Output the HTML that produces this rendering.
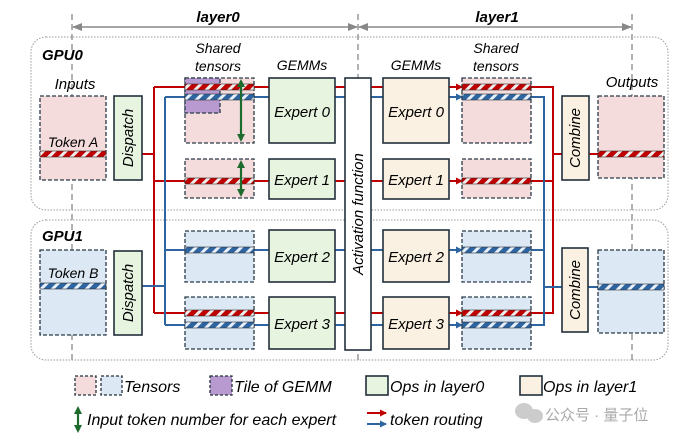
<!DOCTYPE html>
<html><head><meta charset="utf-8"><style>
html,body{margin:0;padding:0;background:#fff;}
svg{display:block;font-family:"Liberation Sans","Noto Sans CJK SC",sans-serif;font-style:italic;}
</style></head><body>
<svg width="700" height="442" viewBox="0 0 700 442" xmlns="http://www.w3.org/2000/svg">
<defs>
<pattern id="pr" width="8" height="8" patternUnits="userSpaceOnUse" patternTransform="rotate(45)"><rect width="8" height="8" fill="#c00000"/><rect width="3" height="8" fill="#eee"/></pattern>
<pattern id="pb" width="8" height="8" patternUnits="userSpaceOnUse" patternTransform="rotate(45)"><rect width="8" height="8" fill="#2e64a0"/><rect width="3" height="8" fill="#e8f0fa"/></pattern>
<marker id="ar" markerUnits="userSpaceOnUse" markerWidth="7" markerHeight="7" refX="6" refY="3.5" orient="auto"><path d="M0,0L7,3.5L0,7z" fill="#c00000"/></marker>
<marker id="ab" markerUnits="userSpaceOnUse" markerWidth="7" markerHeight="7" refX="6" refY="3.5" orient="auto"><path d="M0,0L7,3.5L0,7z" fill="#2e64a0"/></marker>
<marker id="ag" markerUnits="userSpaceOnUse" markerWidth="8" markerHeight="8" refX="6" refY="4" orient="auto-start-reverse"><path d="M0,0L8,4L0,8z" fill="#1e6b2e"/></marker>
<marker id="ay" markerUnits="userSpaceOnUse" markerWidth="10" markerHeight="8" refX="9" refY="4" orient="auto-start-reverse"><path d="M0,0L10,4L0,8z" fill="#888"/></marker>
</defs>
<g stroke="#888" stroke-width="1.3" stroke-dasharray="6,4" fill="none">
<line x1="72" y1="14" x2="72" y2="362"/><line x1="358" y1="14" x2="358" y2="362"/><line x1="632" y1="14" x2="632" y2="362"/>
</g>
<line x1="73" y1="27" x2="357" y2="27" stroke="#888" stroke-width="1.5" marker-start="url(#ay)" marker-end="url(#ay)"/>
<line x1="359" y1="27" x2="631" y2="27" stroke="#888" stroke-width="1.5" marker-start="url(#ay)" marker-end="url(#ay)"/>
<text x="218" y="22" font-size="15" font-weight="bold" text-anchor="middle">layer0</text>
<text x="497" y="22" font-size="15" font-weight="bold" text-anchor="middle">layer1</text>
<rect x="31" y="37" width="637" height="173" rx="15" fill="none" stroke="#999" stroke-dasharray="1.5,1.5"/>
<rect x="31" y="220" width="637" height="140" rx="15" fill="none" stroke="#999" stroke-dasharray="1.5,1.5"/>
<text x="42" y="60" font-size="15" font-weight="bold">GPU0</text>
<text x="42" y="241" font-size="15" font-weight="bold">GPU1</text>
<g font-size="14" text-anchor="middle">
<text x="75" y="89" font-size="15">Inputs</text>
<text x="218" y="53">Shared</text><text x="218" y="71">tensors</text>
<text x="302" y="70">GEMMs</text>
<text x="416" y="70">GEMMs</text>
<text x="496" y="53">Shared</text><text x="496" y="71">tensors</text>
<text x="632" y="87" font-size="15">Outputs</text>
</g>
<g fill="none" stroke-width="2">
<g stroke="#c00000">
<path d="M142,154H154M154,87V313M154,87H269M154,181H269M154,313H269"/>
<path d="M335,87H345M335,181H345M335,313H345M371,87H383M371,181H383M371,313H383"/>
<path d="M449,87H462" marker-end="url(#ar)"/><path d="M449,181H462" marker-end="url(#ar)"/><path d="M449,313H462" marker-end="url(#ar)"/>
<path d="M531,87H553V313H531M531,181H553M553,154H562M589,154H598"/>
</g>
<g stroke="#2e64a0">
<path d="M142,286H165M165,97V325M165,97H269M165,250H269M165,325H269"/>
<path d="M335,97H345M335,250H345M335,325H345M371,97H383M371,250H383M371,325H383"/>
<path d="M449,97H462" marker-end="url(#ab)"/><path d="M449,250H462" marker-end="url(#ab)"/><path d="M449,325H462" marker-end="url(#ab)"/>
<path d="M531,97H544V325H531M531,250H544M544,287H562M588,287H598"/>
</g>
</g>
<g stroke="#2a3a48" stroke-width="1.3" stroke-dasharray="4,2">
<rect x="40" y="96" width="66" height="84" fill="#f4dcdc"/>
<rect x="40" y="250" width="66" height="85" fill="#dce8f4"/>
<rect x="185" y="78" width="69" height="65" fill="#f4dcdc"/>
<rect x="185" y="159" width="69" height="39" fill="#f4dcdc"/>
<rect x="185" y="231" width="69" height="51" fill="#dce8f4"/>
<rect x="185" y="297" width="69" height="52" fill="#dce8f4"/>
<rect x="462" y="78" width="69" height="65" fill="#f4dcdc"/>
<rect x="462" y="159" width="69" height="39" fill="#f4dcdc"/>
<rect x="462" y="231" width="69" height="51" fill="#dce8f4"/>
<rect x="462" y="297" width="69" height="52" fill="#dce8f4"/>
<rect x="598" y="96" width="66" height="82" fill="#f4dcdc"/>
<rect x="598" y="250" width="66" height="83" fill="#dce8f4"/>
<rect x="185" y="78" width="35" height="35" fill="#b89ad0"/>
</g>
<g stroke="#333" stroke-width="0.6">
<rect x="40" y="151" width="66" height="6" fill="url(#pr)"/>
<rect x="40" y="283" width="66" height="6" fill="url(#pb)"/>
<rect x="185" y="84" width="69" height="6" fill="url(#pr)"/>
<rect x="185" y="94" width="69" height="6" fill="url(#pb)"/>
<rect x="185" y="178" width="69" height="6" fill="url(#pr)"/>
<rect x="185" y="247" width="69" height="6" fill="url(#pb)"/>
<rect x="185" y="310" width="69" height="6" fill="url(#pr)"/>
<rect x="185" y="322" width="69" height="6" fill="url(#pb)"/>
<rect x="462" y="84" width="69" height="6" fill="url(#pr)"/>
<rect x="462" y="94" width="69" height="6" fill="url(#pb)"/>
<rect x="462" y="178" width="69" height="6" fill="url(#pr)"/>
<rect x="462" y="247" width="69" height="6" fill="url(#pb)"/>
<rect x="462" y="310" width="69" height="6" fill="url(#pr)"/>
<rect x="462" y="322" width="69" height="6" fill="url(#pb)"/>
<rect x="598" y="151" width="66" height="6" fill="url(#pr)"/>
<rect x="598" y="284" width="66" height="6" fill="url(#pb)"/>
</g>
<g stroke="#1e6b2e" stroke-width="2.2">
<line x1="241" y1="81" x2="241" y2="140" marker-start="url(#ag)" marker-end="url(#ag)"/>
<line x1="241" y1="162" x2="241" y2="195" marker-start="url(#ag)" marker-end="url(#ag)"/>
</g>
<text x="73" y="147" font-size="14" text-anchor="middle">Token A</text>
<text x="73" y="278" font-size="14" text-anchor="middle">Token B</text>
<g stroke="#22303c" stroke-width="1.6">
<rect x="114" y="96" width="28" height="84" fill="#e6f4e0"/>
<rect x="114" y="251" width="28" height="84" fill="#e6f4e0"/>
<rect x="269" y="78" width="66" height="65" fill="#e6f4e0"/>
<rect x="269" y="159" width="66" height="40" fill="#e6f4e0"/>
<rect x="269" y="230" width="66" height="52" fill="#e6f4e0"/>
<rect x="269" y="297" width="66" height="52" fill="#e6f4e0"/>
<rect x="345" y="78" width="26" height="272" fill="#fff"/>
<rect x="383" y="78" width="66" height="65" fill="#fbf1e2"/>
<rect x="383" y="159" width="66" height="40" fill="#fbf1e2"/>
<rect x="383" y="230" width="66" height="52" fill="#fbf1e2"/>
<rect x="383" y="297" width="66" height="52" fill="#fbf1e2"/>
<rect x="562" y="96" width="27" height="84" fill="#fbf1e2"/>
<rect x="562" y="248" width="26" height="84" fill="#fbf1e2"/>
</g>
<g font-size="15" text-anchor="middle">
<text x="302" y="117">Expert 0</text><text x="302" y="185">Expert 1</text>
<text x="302" y="262">Expert 2</text><text x="302" y="329">Expert 3</text>
<text x="416" y="117">Expert 0</text><text x="416" y="185">Expert 1</text>
<text x="416" y="262">Expert 2</text><text x="416" y="329">Expert 3</text>
<text transform="translate(133,138) rotate(-90)">Dispatch</text>
<text transform="translate(133,293) rotate(-90)">Dispatch</text>
<text transform="translate(580,138) rotate(-90)">Combine</text>
<text transform="translate(580,290) rotate(-90)">Combine</text>
<text transform="translate(363,214) rotate(-90)">Activation function</text>
</g>
<g stroke="#22303c" stroke-width="1.3">
<rect x="75" y="376" width="21" height="19" fill="#f4dcdc" stroke-dasharray="3,2"/>
<rect x="101" y="376" width="21" height="19" fill="#dce8f4" stroke-dasharray="3,2"/>
<rect x="210" y="376" width="22" height="19" fill="#b89ad0" stroke-dasharray="3,2"/>
<rect x="366" y="376" width="22" height="19" fill="#e6f4e0" stroke-width="1.6"/>
<rect x="520" y="376" width="22" height="19" fill="#fbf1e2" stroke-width="1.6"/>
</g>
<g font-size="16">
<text x="124" y="392">Tensors</text>
<text x="234" y="392">Tile of GEMM</text>
<text x="390" y="392">Ops in layer0</text>
<text x="543" y="392">Ops in layer1</text>
<text x="87" y="425">Input token number for each expert</text>
<text x="390" y="425">token routing</text>
</g>
<line x1="78" y1="408" x2="78" y2="431" stroke="#1e6b2e" stroke-width="2.2" marker-start="url(#ag)" marker-end="url(#ag)"/>
<line x1="367" y1="413" x2="386" y2="413" stroke="#c00000" stroke-width="2" marker-end="url(#ar)"/>
<line x1="367" y1="424" x2="386" y2="424" stroke="#2e64a0" stroke-width="2" marker-end="url(#ab)"/>
<g fill="#ccc"><ellipse cx="524" cy="411" rx="9" ry="8"/><ellipse cx="535" cy="416" rx="8" ry="7"/></g>
<text x="545" y="420" font-size="15" fill="#aaa" font-style="normal">公众号 · 量子位</text>
</svg>
</body></html>
